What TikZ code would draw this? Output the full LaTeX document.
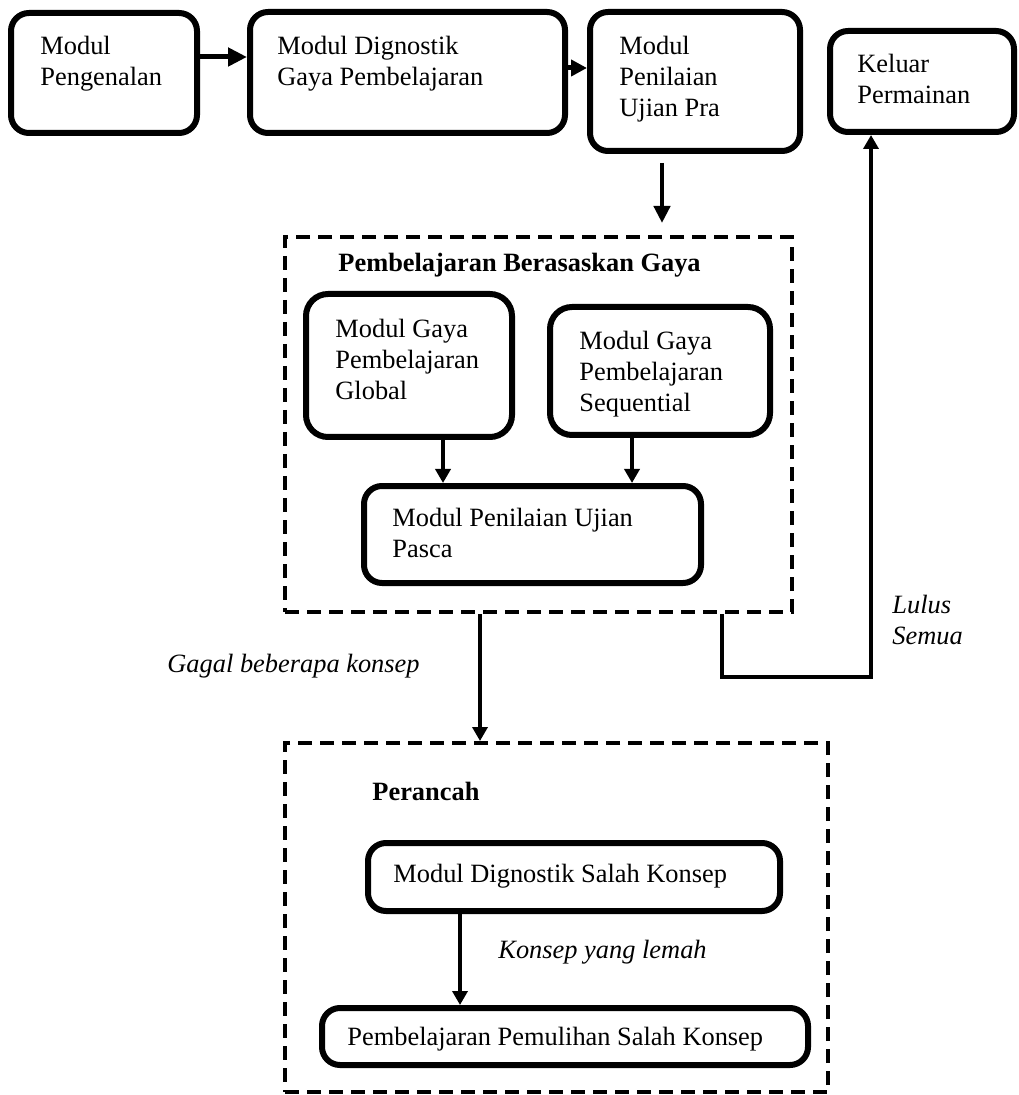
\documentclass[tikz,border=0pt]{standalone}
\usepackage{fontspec}
\setmainfont{Liberation Serif}
\usetikzlibrary{arrows.meta}
\newcommand\tl[1]{\begin{tabular}[t]{@{}l@{}}#1\end{tabular}}
\begin{document}
\begin{tikzpicture}[x=0.5pt,y=-0.5pt,
  font=\fontsize{13.2}{15.5}\selectfont,
  box/.style={draw,line width=3pt,rounded corners=9pt,inner sep=0pt},
  dbox/.style={draw,line width=2pt,dash pattern=on 7pt off 4pt,inner sep=0pt},
  txt/.style={anchor=base west,inner sep=0pt},
  bigarrow/.style={line width=2.5pt,-{Triangle[width=9pt,length=9.5pt]}},
  arr/.style={line width=1.75pt,-{Triangle[width=7.5pt,length=7pt]}}]
\useasboundingbox (0,0) rectangle (1018,1095);
% top row
\node[box,minimum width=93pt,minimum height=60pt] (b1) at (104,73) {};
\node[box,minimum width=157.5pt,minimum height=60.5pt] (b2) at (407.5,72.5) {};
\node[box,minimum width=105pt,minimum height=69.5pt] (b3) at (695,81.5) {};
\node[box,minimum width=92pt,minimum height=50.5pt] (b4) at (922,81.5) {};
\node[txt] (t1) at (40,55) {\tl{Modul\\Pengenalan}};
\node[txt] (t2) at (277,55) {\tl{Modul Dignostik\\Gaya Pembelajaran}};
\node[txt] (t3) at (619,55) {\tl{Modul\\Penilaian\\Ujian Pra}};
\node[txt] (t4) at (857,73) {\tl{Keluar\\Permainan}};
% style-based learning group
\node[dbox,minimum width=253.5pt,minimum height=187.5pt] (d1) at (538.5,424.5) {};
\node[txt,font=\fontsize{13.2}{15.5}\selectfont\bfseries] (tt1) at (338,272) {Pembelajaran Berasaskan Gaya};
\node[box,rounded corners=11pt,minimum width=103pt,minimum height=71.5pt] (g) at (409,365.5) {};
\node[box,rounded corners=11pt,minimum width=110pt,minimum height=64pt] (s) at (660,371) {};
\node[box,minimum width=168.5pt,minimum height=48.5pt] (p) at (532.5,534.5) {};
\node[txt] (tg) at (335,338) {\tl{Modul Gaya\\Pembelajaran\\Global}};
\node[txt] (ts) at (579,350) {\tl{Modul Gaya\\Pembelajaran\\Sequential}};
\node[txt] (tp) at (392,526) {\tl{Modul Penilaian Ujian\\Pasca}};
% scaffolding group
\node[dbox,minimum width=271.5pt,minimum height=174.5pt] (d2) at (556.5,917.5) {};
\node[txt,font=\fontsize{13.2}{15.5}\selectfont\bfseries] (tt2) at (372,800) {Perancah};
\node[box,minimum width=206pt,minimum height=34pt] (k) at (574,877) {};
\node[box,minimum width=243pt,minimum height=28.5pt] (r) at (565,1036.5) {};
\node[txt] (tk) at (393,882) {Modul Dignostik Salah Konsep};
\node[txt] (tr) at (347,1045) {Pembelajaran Pemulihan Salah Konsep};
% labels
\node[txt,font=\fontsize{13.2}{15.5}\selectfont\itshape] (lg) at (167,672) {Gagal beberapa konsep};
\node[txt,font=\fontsize{13.2}{15.5}\selectfont\itshape] (ll) at (892,613) {\tl{Lulus\\Semua}};
\node[txt,font=\fontsize{13.2}{15.5}\selectfont\itshape] (lk) at (498,958) {Konsep yang lemah};
% column coordinates
\coordinate (xa) at (662,0);
\coordinate (xg) at (443,0);
\coordinate (xs) at (632,0);
\coordinate (xf) at (480,0);
\coordinate (xk) at (460,0);
\coordinate (xl) at (722,677);
\coordinate (xr) at (871,677);
% connectors
\draw[bigarrow] ([yshift=8pt]b1.east) -- ([yshift=7.75pt]b2.west);
\draw[bigarrow,-{Triangle[width=8pt,length=8pt]}] ([yshift=2.25pt]b2.east) -- ([yshift=6.75pt]b3.west);
\draw[arr,line width=2.25pt,-{Triangle[width=8pt,length=8.5pt]},shorten <=4.5pt,shorten >=6pt] (b3.south -| xa) -- (d1.north -| xa);
\draw[arr] (g.south -| xg) -- (p.north -| xg);
\draw[arr] (s.south -| xs) -- (p.north -| xs);
\draw[arr] (d1.south -| xf) -- (d2.north -| xf);
\draw[arr] (d1.south -| xl) -- (xl) -- (xr) -- (b4.south -| xr);
\draw[arr] (k.south -| xk) -- (r.north -| xk);
\end{tikzpicture}
\end{document}
